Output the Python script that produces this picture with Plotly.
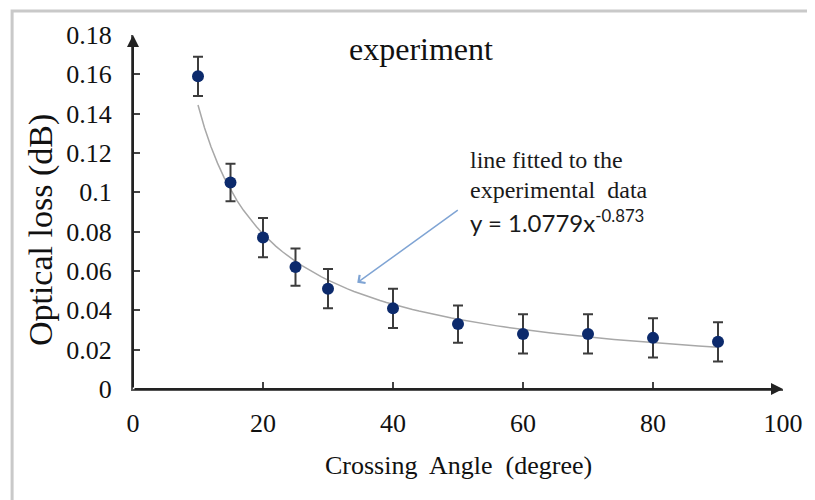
import plotly.graph_objects as go

# ---- data ----
angles = [10, 15, 20, 25, 30, 40, 50, 60, 70, 80, 90]
loss_db = [0.159, 0.105, 0.077, 0.062, 0.051, 0.041, 0.033, 0.028, 0.028, 0.026, 0.024]
loss_err = [0.010, 0.0095, 0.010, 0.0095, 0.010, 0.010, 0.0095, 0.010, 0.010, 0.010, 0.010]

# fitted power law shown in the chart: y = 1.0779 x^-0.873
fit_a = 1.0779
fit_b = -0.873
fit_x = [10 + i for i in range(81)]
fit_y = [fit_a * xv ** fit_b for xv in fit_x]

x_ticks = [0, 20, 40, 60, 80, 100]
y_ticks = [0, 0.02, 0.04, 0.06, 0.08, 0.1, 0.12, 0.14, 0.16, 0.18]
y_tick_text = ["0", "0.02", "0.04", "0.06", "0.08", "0.1", "0.12", "0.14", "0.16", "0.18"]

SERIF = "Liberation Serif, Times New Roman, serif"

fig = go.Figure()
fig.add_trace(go.Scatter(
    x=fit_x, y=fit_y, mode="lines",
    line=dict(color="#a8a8a8", width=1.5), hoverinfo="skip", showlegend=False))
fig.add_trace(go.Scatter(
    x=angles, y=loss_db, mode="markers",
    marker=dict(color="#0c2a6c", size=12),
    error_y=dict(type="data", array=loss_err, visible=True, color="#3c3c3c", thickness=2, width=5),
    showlegend=False))

axis_common = dict(showline=True, linecolor="#555555", linewidth=2, ticks="inside",
                   tickcolor="#444444", tickwidth=2, ticklen=7, showgrid=False, zeroline=False,
                   tickfont=dict(family=SERIF, size=26, color="#111111"))

fig.update_xaxes(range=[0, 100], tickvals=x_ticks, ticktext=[str(v) for v in x_ticks],
                 ticklabelstandoff=10, **axis_common)
fig.update_yaxes(range=[0, 0.18], tickvals=y_ticks, ticktext=y_tick_text,
                 ticklabelstandoff=14, **axis_common)

annotations = [
    # axis arrows
    dict(x=100, y=0, ax=0, ay=0, xref="x", yref="y", axref="x", ayref="y", text="",
         showarrow=True, arrowhead=2, arrowsize=1.2, arrowwidth=2, arrowcolor="#222222", standoff=0),
    dict(x=0, y=0.18, ax=0, ay=0, xref="x", yref="y", axref="x", ayref="y", text="",
         showarrow=True, arrowhead=2, arrowsize=1.2, arrowwidth=2, arrowcolor="#222222", standoff=0),
    # pointer to the fitted line
    dict(x=34.5, y=0.054, ax=50.2, ay=0.0915, xref="x", yref="y", axref="x", ayref="y", text="",
         showarrow=True, arrowhead=4, arrowsize=1.3, arrowwidth=1.5, arrowcolor="#7fa4d4", standoff=0),
    dict(x=44.3, y=0.173, xref="x", yref="y", xanchor="center", yanchor="middle", text="experiment",
         showarrow=False, font=dict(family=SERIF, size=32, color="#111111")),
    dict(x=51.6, y=0.1164, xref="x", yref="y", xanchor="left", yanchor="middle", text="line fitted to the",
         showarrow=False, font=dict(family=SERIF, size=24, color="#1a1a1a")),
    dict(x=51.6, y=0.1012, xref="x", yref="y", xanchor="left", yanchor="middle", text="experimental&nbsp; data",
         showarrow=False, font=dict(family=SERIF, size=24, color="#1a1a1a")),
    dict(x=51.6, y=0.0855, xref="x", yref="y", xanchor="left", yanchor="middle", text="y = 1.0779x<sup>-0.873</sup>",
         showarrow=False, font=dict(family="Lato, Liberation Sans, sans-serif", size=24, color="#1a1a1a")),
    # axis titles
    dict(x=-0.1415, y=0.449, xref="paper", yref="paper", xanchor="center", yanchor="middle",
         text="Optical loss (dB)", textangle=-90,
         showarrow=False, font=dict(family=SERIF, size=34, color="#111111")),
    dict(x=0.5015, y=-0.2147, xref="paper", yref="paper", xanchor="center", yanchor="middle",
         text="Crossing&nbsp; Angle&nbsp; (degree)",
         showarrow=False, font=dict(family=SERIF, size=26, color="#111111")),
]

# the page body adds an 8px offset, so the figure is sized to end at the window edge
fig.update_layout(
    width=807, height=492,
    margin=dict(l=125, r=32, t=27, b=111),
    paper_bgcolor="white", plot_bgcolor="white",
    annotations=annotations,
    shapes=[dict(type="rect", xref="paper", yref="paper", x0=-0.186, x1=1.3, y0=-0.6, y1=1.0678,
                 line=dict(color="#c9c9c9", width=3), layer="below")],
)

fig.write_html("out.html")
